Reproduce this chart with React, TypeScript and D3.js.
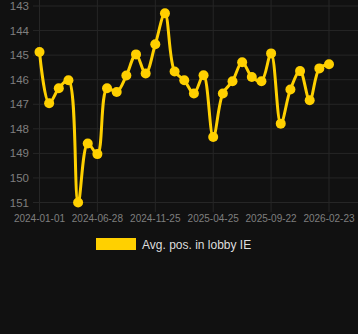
import React from "react";
import * as d3 from "d3";

const values: number[] = [
  144.87, 146.96, 146.35, 146.02, 151.0, 148.6, 149.03, 146.35, 146.5, 145.83,
  144.97, 145.75, 144.56, 143.3, 145.67, 146.02, 146.56, 145.82, 148.33, 146.56,
  146.06, 145.29, 145.89, 146.06, 144.93, 147.79, 146.4, 145.65, 146.84, 145.54,
  145.37,
];
const xTickIndex: number[] = [0, 6, 12, 18, 24, 30];
const xTickLabels: string[] = [
  "2024-01-01",
  "2024-06-28",
  "2024-11-25",
  "2025-04-25",
  "2025-09-22",
  "2026-02-23",
];
const yTicks: number[] = [143, 144, 145, 146, 147, 148, 149, 150, 151];
const seriesName = "Avg. pos. in lobby IE";

const W = 358;
const H = 334;
const COLOR = "#FFD000";
const FONT = "'Liberation Sans', Arial, Helvetica, sans-serif";

export default function App() {
  const x = d3.scaleLinear().domain([0, values.length - 1]).range([39.5, 329]);
  const y = d3.scaleLinear().domain([143, 151]).range([6, 202.5]);
  const line = d3
    .line<number>()
    .x((_, i) => x(i))
    .y((d) => y(d))
    .curve(d3.curveCatmullRom.alpha(0.5));

  return (
    <svg
      width={W}
      height={H}
      style={{ position: "fixed", left: 0, top: 0, background: "#111111" }}
    >
      <rect x={0} y={0} width={W} height={H} fill="#111111" />
      {yTicks.map((t) => (
        <g key={t}>
          <line x1={33} x2={W} y1={y(t)} y2={y(t)} stroke="#262626" strokeWidth={1} />
          <text
            x={29}
            y={y(t)}
            dy="0.35em"
            textAnchor="end"
            fill="#7f7f7f"
            fontSize={11.5}
            fontFamily={FONT}
          >
            {t}
          </text>
        </g>
      ))}
      {xTickIndex.map((idx, k) => (
        <g key={idx}>
          <line x1={x(idx)} x2={x(idx)} y1={0} y2={212} stroke="#262626" strokeWidth={1} />
          <text
            x={x(idx)}
            y={222}
            textAnchor="middle"
            fill="#7f7f7f"
            fontSize={10}
            fontFamily={FONT}
          >
            {xTickLabels[k]}
          </text>
        </g>
      ))}
      <path d={line(values) || ""} fill="none" stroke={COLOR} strokeWidth={3} />
      {values.map((v, i) => (
        <circle key={i} cx={x(i)} cy={y(v)} r={5} fill={COLOR} />
      ))}
      <rect x={96} y={238} width={40} height={12} fill={COLOR} />
      <text x={142} y={248.5} fill="#dddddd" fontSize={12} fontFamily={FONT}>
        {seriesName}
      </text>
    </svg>
  );
}
